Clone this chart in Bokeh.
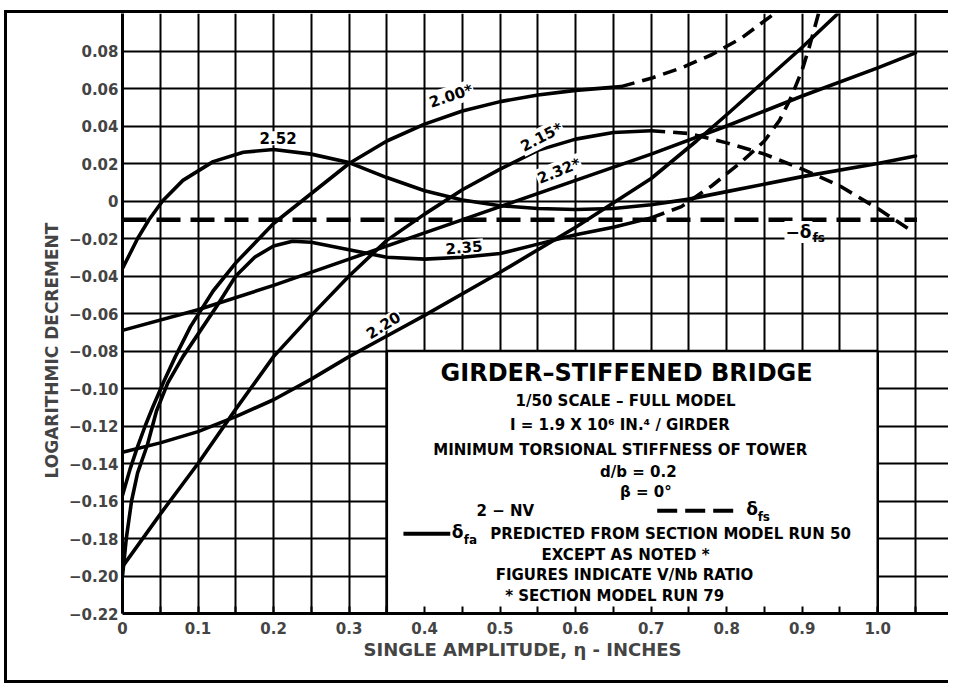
from bokeh.plotting import figure
from bokeh.models import FixedTicker, CustomJSTickFormatter, Label, Range1d, Title
from bokeh.embed import file_html
from bokeh.resources import INLINE

FONT = "DejaVu Sans"

# ---------------- data ----------------
x_ticks = [0, 0.1, 0.2, 0.3, 0.4, 0.5, 0.6, 0.7, 0.8, 0.9, 1.0]
x_minor = [0.05, 0.15, 0.25, 0.35, 0.45, 0.55, 0.65, 0.75, 0.85, 0.95, 1.05]
y_ticks = [-0.22, -0.20, -0.18, -0.16, -0.14, -0.12, -0.10, -0.08, -0.06,
           -0.04, -0.02, 0, 0.02, 0.04, 0.06, 0.08]

# V/Nb = 2.52 (solid)
x_252 = [0, 0.02, 0.035, 0.053, 0.08, 0.12, 0.16, 0.2, 0.25, 0.3, 0.35, 0.4,
         0.45, 0.5, 0.55, 0.6, 0.65, 0.7, 0.75, 0.8, 0.9, 1.0, 1.05]
y_252 = [-0.036, -0.020, -0.010, 0.0, 0.011, 0.021, 0.026, 0.0275, 0.025, 0.0205,
         0.0125, 0.0055, 0.0005, -0.0025, -0.004, -0.0045, -0.004, -0.002, 0.001,
         0.005, 0.013, 0.020, 0.024]

# V/Nb = 2.00* (solid, then dashed)
x_200 = [0, 0.01, 0.02, 0.03, 0.04, 0.055, 0.07, 0.09, 0.12, 0.15, 0.2, 0.25,
         0.3, 0.35, 0.4, 0.45, 0.5, 0.55, 0.6, 0.66]
y_200 = [-0.157, -0.143, -0.131, -0.120, -0.110, -0.096, -0.083, -0.067, -0.048,
         -0.033, -0.012, 0.004, 0.020, 0.032, 0.041, 0.048, 0.053, 0.0565, 0.059, 0.061]
x_200d = [0.66, 0.7, 0.74, 0.78, 0.82, 0.86, 0.88]
y_200d = [0.061, 0.0655, 0.071, 0.078, 0.087, 0.099, 0.105]

# V/Nb = 2.15* (solid, then dashed)
x_215 = [0, 0.05, 0.1, 0.15, 0.2, 0.25, 0.3, 0.35, 0.4, 0.45, 0.5, 0.55, 0.6, 0.65, 0.7]
y_215 = [-0.195, -0.167, -0.140, -0.111, -0.083, -0.061, -0.040, -0.021, -0.007,
         0.006, 0.017, 0.027, 0.033, 0.0365, 0.0375]
x_215d = [0.7, 0.75, 0.8, 0.85, 0.9, 0.95, 1.0, 1.045]
y_215d = [0.0375, 0.036, 0.031, 0.025, 0.017, 0.008, -0.004, -0.016]

# V/Nb = 2.20 (solid)
x_220 = [0, 0.05, 0.1, 0.15, 0.2, 0.25, 0.3, 0.35, 0.4, 0.5, 0.6, 0.7, 0.76,
         0.8, 0.85, 0.9, 0.95]
y_220 = [-0.134, -0.129, -0.123, -0.115, -0.106, -0.095, -0.083, -0.072, -0.061,
         -0.038, -0.014, 0.012, 0.032, 0.046, 0.064, 0.082, 0.101]

# V/Nb = 2.32* (solid)
x_232 = [0, 0.1, 0.2, 0.3, 0.4, 0.5, 0.6, 0.7, 0.8, 0.9, 1.0, 1.05]
y_232 = [-0.069, -0.058, -0.045, -0.031, -0.017, -0.003, 0.011, 0.025, 0.040,
         0.056, 0.071, 0.079]

# V/Nb = 2.35 (solid, then dashed)
x_235 = [0, 0.005, 0.012, 0.02, 0.033, 0.045, 0.06, 0.08, 0.1, 0.125, 0.15, 0.175,
         0.2, 0.225, 0.25, 0.3, 0.35, 0.4, 0.45, 0.5, 0.55, 0.6, 0.65, 0.7]
y_235 = [-0.20, -0.18, -0.16, -0.145, -0.13, -0.112, -0.097, -0.083, -0.071,
         -0.056, -0.040, -0.030, -0.024, -0.0215, -0.022, -0.026, -0.030, -0.031,
         -0.030, -0.028, -0.023, -0.018, -0.014, -0.009]
x_235d = [0.7, 0.74, 0.78, 0.82, 0.85, 0.87, 0.885, 0.9, 0.91, 0.925]
y_235d = [-0.009, -0.003, 0.008, 0.021, 0.032, 0.043, 0.055, 0.07, 0.083, 0.105]

# -delta_fs (dashed horizontal)
x_dfs = [0, 1.052]
y_dfs = [-0.01, -0.01]

# curve labels: text, x, y, angle (deg)
curve_labels = [("2.52", 0.206, 0.0335, 0),
                ("2.00*", 0.435, 0.056, 18),
                ("2.15*", 0.555, 0.034, 27),
                ("2.32*", 0.578, 0.016, 22),
                ("2.35", 0.452, -0.0245, 5),
                ("2.20", 0.345, -0.066, 32)]

# ---------------- figure ----------------
p = figure(width=945, height=667, x_range=Range1d(0, 1.099), y_range=Range1d(-0.22, 0.10),
           output_backend="svg", toolbar_location=None,
           min_border_left=115, min_border_right=0, min_border_top=0, min_border_bottom=67)
p.styles = {"margin-left": "7px", "margin-top": "13px",
            "box-shadow": "-3px 0px 0px 0px black, 0px -3px 0px 0px black, "
                          "0px 3px 0px 0px black, -3px -3px 0px 0px black, "
                          "-3px 3px 0px 0px black",
            "clip-path": "inset(-5px 4px -5px -5px)"}
p.outline_line_color = None
p.background_fill_color = "white"
p.border_fill_color = "white"

# grid
p.xgrid.ticker = FixedTicker(ticks=[round(0.05 * i, 2) for i in range(22)])
p.ygrid.ticker = FixedTicker(ticks=[round(-0.22 + 0.02 * i, 2) for i in range(16)])
for g in (p.xgrid, p.ygrid):
    g.grid_line_color = "black"
    g.grid_line_width = 2
    g.grid_line_alpha = 1

# x axis
p.xaxis.ticker = FixedTicker(ticks=x_ticks, minor_ticks=x_minor)
p.xaxis.formatter = CustomJSTickFormatter(code="return tick == 0 ? '0' : tick.toFixed(1);")
p.xaxis.major_tick_in = 7
p.xaxis.major_tick_out = 0
p.xaxis.minor_tick_in = 7
p.xaxis.minor_tick_out = 0
p.xaxis.major_tick_line_width = 2
p.xaxis.minor_tick_line_width = 2
p.xaxis.axis_line_width = 3
p.xaxis.major_label_text_font = FONT
p.xaxis.major_label_text_font_style = "bold"
p.xaxis.major_label_text_font_size = "15px"
p.xaxis.major_label_standoff = 8
p.xaxis.axis_label = None

# x-axis title as a side title (allows horizontal shift)
p.add_layout(Title(text="SINGLE AMPLITUDE, \u03b7 - INCHES", align="left", offset=241,
                   text_font=FONT, text_font_style="bold", text_font_size="18px",
                   standoff=0), "below")

# y axis
p.yaxis.ticker = FixedTicker(ticks=y_ticks)
p.yaxis.formatter = CustomJSTickFormatter(
    code="return tick == 0 ? '0' : tick.toFixed(2).replace('-', '\u2212');")
p.yaxis.major_tick_in = 0
p.yaxis.major_tick_out = 0
p.yaxis.minor_tick_in = 0
p.yaxis.minor_tick_out = 0
p.yaxis.axis_line_width = 3
p.yaxis.major_label_text_font = FONT
p.yaxis.major_label_text_font_style = "bold"
p.yaxis.major_label_text_font_size = "15px"
p.yaxis.major_label_standoff = 4

# y-axis title as a side title (allows shifting along the axis)
p.add_layout(Title(text="LOGARITHMIC  DECREMENT", align="left", offset=135,
                   text_font=FONT, text_font_style="bold", text_font_size="17px",
                   standoff=8), "left")

# legend / title box covering the grid
p.quad(left=0.35, right=1.0, bottom=-0.22, top=-0.08, fill_color="white",
       line_color="black", line_width=2.5)

LW = 3.6
solid = dict(line_color="black", line_width=LW, line_join="round", line_cap="round")
dashed = dict(line_color="black", line_width=LW, line_dash="14 8")

p.line(x_dfs, y_dfs, line_color="black", line_width=4.5, line_dash="24 10")
p.line(x_252, y_252, **solid)
p.line(x_200, y_200, **solid)
p.line(x_200d, y_200d, **dashed)
p.line(x_215, y_215, **solid)
p.line(x_215d, y_215d, **dashed)
p.line(x_220, y_220, **solid)
p.line(x_232, y_232, **solid)
p.line(x_235, y_235, **solid)
p.line(x_235d, y_235d, **dashed)


def lab(text, x, y, size="15px", angle=0, align="center", bg=None, style="bold"):
    kw = {}
    if bg:
        kw = dict(background_fill_color=bg, padding=1)
    p.add_layout(Label(x=x, y=y, text=text, text_font=FONT, text_font_style=style,
                       text_font_size=size, angle=angle, angle_units="deg",
                       text_align=align, text_baseline="middle", text_color="black", **kw))


for t, lx, ly, ang in curve_labels:
    lab(t, lx, ly, angle=ang, bg="white")

# -delta_fs curve label
lab("\u2212\u03b4", 0.895, -0.0165, size="17px", bg="white")
lab("fs", 0.922, -0.0195, size="12px")

# box text
cx = 0.673
lab("GIRDER\u2013STIFFENED  BRIDGE", cx, -0.0916, size="24px")
lab("1/50  SCALE \u2013 FULL  MODEL", cx, -0.1066, size="15px")
lab("I = 1.9 X 10\u2076  IN.\u2074 / GIRDER", 0.662, -0.1193, size="15px")
lab("MINIMUM  TORSIONAL  STIFFNESS  OF  TOWER", cx, -0.1327, size="15px")
lab("d/b = 0.2", 0.683, -0.1444, size="15px")
lab("\u03b2 = 0\u00b0", 0.693, -0.1550, size="15px")
lab("2 \u2212 NV", 0.507, -0.1652, size="15px")
p.line([0.708, 0.818], [-0.1652, -0.1652], line_color="black", line_width=4, line_dash="20 8")
lab("\u03b4", 0.826, -0.1645, size="17px", align="left")
lab("fs", 0.841, -0.1685, size="12px", align="left")
p.line([0.372, 0.434], [-0.1774, -0.1774], line_color="black", line_width=4)
lab("\u03b4", 0.436, -0.1767, size="17px", align="left")
lab("fa", 0.452, -0.1807, size="12px", align="left")
lab("PREDICTED  FROM  SECTION  MODEL  RUN  50", 0.487, -0.1774, size="15px", align="left")
lab("EXCEPT  AS  NOTED *", cx, -0.1886, size="15px")
lab("FIGURES  INDICATE  V/Nb  RATIO", 0.675, -0.1993, size="15px")
lab("* SECTION  MODEL  RUN  79", 0.662, -0.2105, size="15px")

open("out.html", "w").write(file_html(p, INLINE))
